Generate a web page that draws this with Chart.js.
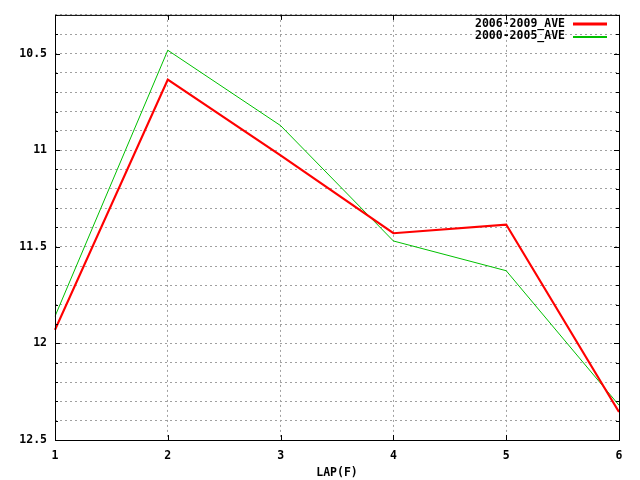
<!DOCTYPE html>
<html>
<head>
<meta charset="utf-8">
<script src="https://cdn.jsdelivr.net/npm/chart.js@4/dist/chart.umd.min.js"></script>
<style>
  html, body { margin: 0; padding: 0; background: #fff; }
  #wrap { width: 640px; height: 480px; }
</style>
</head>
<body>
<div id="wrap"><canvas id="lapChart" width="640" height="480"></canvas></div>
<script>
const laps = ['1', '2', '3', '4', '5', '6'];
const ave0609 = [11.93, 10.635, 11.027, 11.43, 11.385, 12.355];
const ave0005 = [11.86, 10.483, 10.873, 11.47, 11.624, 12.32];
const seriesNames = ['2006-2009_AVE', '2000-2005_AVE'];
const seriesColors = ['#ff0000', '#00c000'];
const seriesWidths = [2.2, 1];

const monoFont = { family: "'DejaVu Sans Mono', monospace", size: 11.5, weight: 'bold' };

// gnuplot-like frame, inward ticks and legend
const framePlugin = {
  id: 'frame',
  afterDraw(chart) {
    const ctx = chart.ctx;
    const a = chart.chartArea;
    const xs = chart.scales.x, ys = chart.scales.y;
    ctx.save();
    ctx.strokeStyle = '#000';
    ctx.lineWidth = 1;
    ctx.setLineDash([]);
    ctx.strokeRect(a.left + 0.5, a.top + 0.5, a.right - a.left, a.bottom - a.top);
    ctx.beginPath();
    ys.ticks.forEach(t => {
      const y = Math.round(ys.getPixelForValue(t.value)) + 0.5;
      const len = Math.round(t.value * 10) % 5 === 0 ? 5 : 3;
      ctx.moveTo(a.left, y); ctx.lineTo(a.left + len, y);
      ctx.moveTo(a.right, y); ctx.lineTo(a.right - len, y);
    });
    laps.forEach((l, i) => {
      const x = Math.round(xs.getPixelForValue(i)) + 0.5;
      ctx.moveTo(x, a.bottom); ctx.lineTo(x, a.bottom - 5);
      ctx.moveTo(x, a.top); ctx.lineTo(x, a.top + 5);
    });
    ctx.stroke();

    // legend
    ctx.font = 'bold 11.5px "DejaVu Sans Mono", monospace';
    ctx.textAlign = 'right';
    ctx.textBaseline = 'middle';
    seriesNames.forEach((name, i) => {
      const y = 24 + i * 12.5;
      ctx.fillStyle = '#000';
      ctx.fillText(name, a.right - 54, y);
      ctx.setLineDash([]);
      ctx.strokeStyle = seriesColors[i];
      ctx.lineWidth = i === 0 ? 3 : 2;
      ctx.beginPath();
      const ly = Math.round(y);
      ctx.moveTo(a.right - 46, ly);
      ctx.lineTo(a.right - 12, ly);
      ctx.stroke();
    });
    ctx.restore();
  }
};

new Chart(document.getElementById('lapChart').getContext('2d'), {
  type: 'line',
  data: {
    labels: laps,
    datasets: [
      { label: seriesNames[0], data: ave0609, borderColor: seriesColors[0], borderWidth: seriesWidths[0] },
      { label: seriesNames[1], data: ave0005, borderColor: seriesColors[1], borderWidth: seriesWidths[1] }
    ].map(d => Object.assign(d, { fill: false, tension: 0, pointRadius: 0, pointHoverRadius: 0 }))
  },
  options: {
    responsive: false,
    animation: false,
    layout: { padding: { left: 0, right: 21, top: 13, bottom: 0 } },
    plugins: { legend: { display: false }, tooltip: { enabled: false } },
    scales: {
      x: {
        type: 'category',
        offset: false,
        afterFit(s) { s.height = 40; },
        grid: { color: '#a0a0a0', drawTicks: false },
        border: { display: false, dash: [2, 3] },
        ticks: { color: '#000', font: monoFont, padding: 9, maxRotation: 0 },
        title: { display: true, text: 'LAP(F)', color: '#000', font: monoFont, padding: { top: 0, bottom: 0 } }
      },
      y: {
        reverse: true,
        min: 10.3,
        max: 12.5,
        afterFit(s) { s.width = 55; },
        grid: { color: '#a0a0a0', drawTicks: false },
        border: { display: false, dash: [2, 3] },
        ticks: {
          stepSize: 0.1,
          color: '#000',
          font: monoFont,
          padding: 8,
          autoSkip: false,
          callback(v) {
            const k = Math.round(v * 10);
            return k % 5 === 0 ? String(k / 10) : '';
          }
        }
      }
    }
  },
  plugins: [framePlugin]
});
</script>
</body>
</html>
